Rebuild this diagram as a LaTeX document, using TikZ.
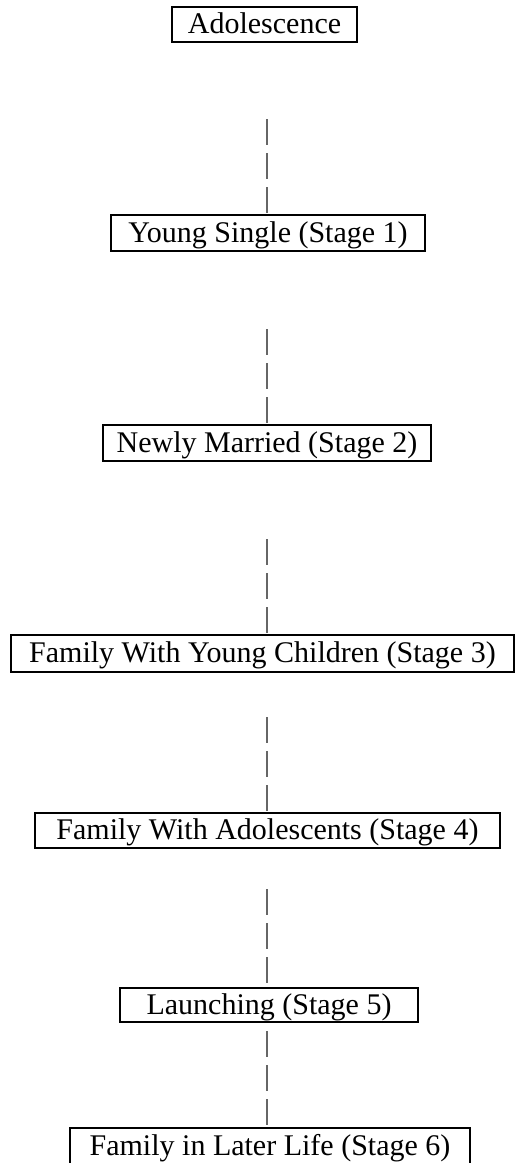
\documentclass[tikz,border=0pt]{standalone}
\usepackage{fontspec}
\setmainfont{Liberation Serif}
\begin{document}
\begin{tikzpicture}[x=0.5pt,y=-0.5pt,
  stagebox/.style={draw=black, line width=1pt, inner sep=0pt,
    font=\fontsize{15pt}{18pt}\selectfont, text height=1.0em, text depth=0.08em},
  conn/.style={draw=black!60, line width=0.65pt, dash pattern=on 13pt off 4pt}]
\useasboundingbox (0,0) rectangle (515,1163);
\clip (0,0) rectangle (515,1163);
\node[stagebox, minimum width=92.5pt, minimum height=17.5pt] (a) at (264.5,24.5) {Adolescence};
\node[stagebox, minimum width=157pt, minimum height=18pt] (s1) at (268,233) {Young Single (Stage 1)};
\node[stagebox, minimum width=164pt, minimum height=18pt] (s2) at (267,443) {Newly Married (Stage 2)};
\node[stagebox, minimum width=251.5pt, minimum height=18.5pt] (s3) at (262.5,653.5) {Family With Young Children (Stage 3)};
\node[stagebox, minimum width=232.5pt, minimum height=17.5pt] (s4) at (267.5,830.5) {Family With Adolescents (Stage 4)};
\node[stagebox, minimum width=149pt, minimum height=17pt] (s5) at (269,1005) {Launching (Stage 5)};
\node[stagebox, minimum width=200pt, minimum height=18pt] (s6) at (270,1146) {Family in Later Life (Stage 6)};
\coordinate (c1) at (267,119);
\coordinate (c2) at (267,329);
\coordinate (c3) at (267,539);
\coordinate (c4) at (267,717);
\coordinate (c5) at (267,889);
\coordinate (c6) at (267,1031);
\draw[conn] (c1) -- (c1 |- s1.north);
\draw[conn] (c2) -- (c2 |- s2.north);
\draw[conn] (c3) -- (c3 |- s3.north);
\draw[conn] (c4) -- (c4 |- s4.north);
\draw[conn] (c5) -- (c5 |- s5.north);
\draw[conn] (c6) -- (c6 |- s6.north);
\end{tikzpicture}
\end{document}
